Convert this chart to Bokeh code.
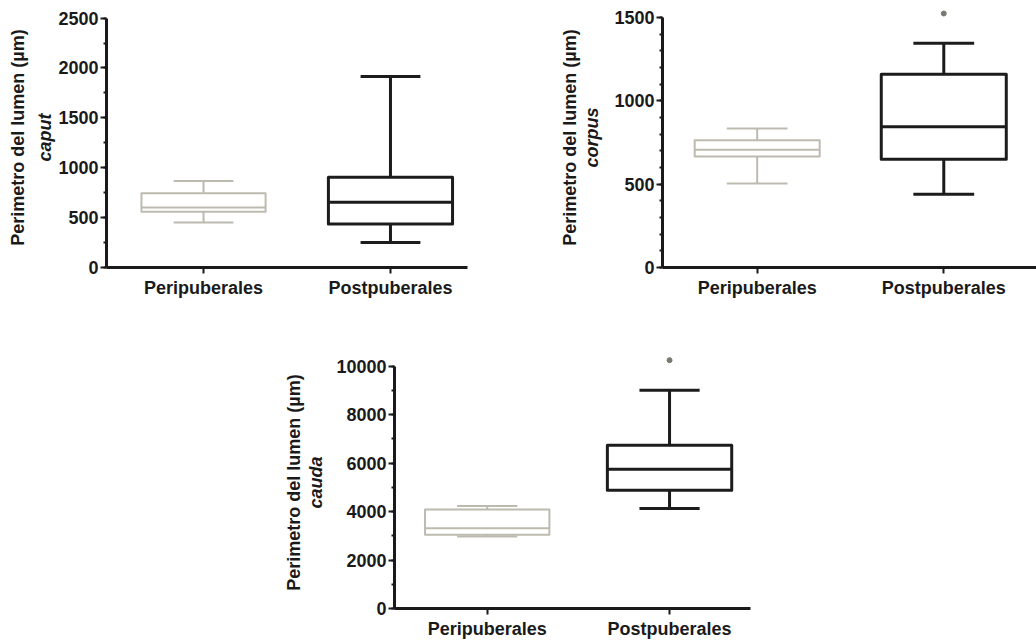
from bokeh.plotting import figure
from bokeh.models import FixedTicker, LinearAxis, Range1d, Spacer
from bokeh.layouts import row, column
from bokeh.embed import file_html
from bokeh.resources import INLINE

categories = ["Peripuberales", "Postpuberales"]
ylabel_main = "Perimetro del lumen (\u00b5m)"

# caput
caput_lower = [452, 251]
caput_q1 = [559, 436]
caput_median = [602, 653]
caput_q3 = [743, 904]
caput_upper = [867, 1915]
caput_out_x = []
caput_out_y = []

# corpus
corpus_lower = [504, 440]
corpus_q1 = [666, 650]
corpus_median = [706, 844]
corpus_q3 = [764, 1160]
corpus_upper = [834, 1346]
corpus_out_x = [2]
corpus_out_y = [1524]

# cauda
cauda_lower = [2970, 4127]
cauda_q1 = [3040, 4884]
cauda_median = [3310, 5750]
cauda_q3 = [4090, 6740]
cauda_upper = [4234, 9010]
cauda_out_x = [2]
cauda_out_y = [10248]

FONT = "Liberation Sans"
FS = "18px"
INK = "#1a1a1a"
COLORS = ["#bdbaaf", "#1c1c1c"]
WIDTHS = [2, 3]


def make_plot(region, lower, q1, med, q3, upper, out_x, out_y,
              xr, yr, ymax, major, minor, half_box, half_cap,
              bl, br, bt, bb, fw, fh, std1, std2):
    p = figure(frame_width=fw, frame_height=fh, output_backend="svg", title=None,
               toolbar_location=None, x_range=Range1d(*xr), y_range=Range1d(0, yr),
               min_border_left=bl, min_border_right=br, min_border_top=bt,
               min_border_bottom=bb, outline_line_color=None)
    p.grid.visible = False
    p.background_fill_color = "white"
    p.border_fill_color = "white"

    xs = [i + 1 for i in range(len(categories))]
    for i, x in enumerate(xs):
        c = COLORS[i]
        w = WIDTHS[i]
        p.segment(x0=[x], y0=[q3[i]], x1=[x], y1=[upper[i]], line_color=c, line_width=w)
        p.segment(x0=[x], y0=[lower[i]], x1=[x], y1=[q1[i]], line_color=c, line_width=w)
        p.segment(x0=[x - half_cap], y0=[upper[i]], x1=[x + half_cap], y1=[upper[i]],
                  line_color=c, line_width=w)
        p.segment(x0=[x - half_cap], y0=[lower[i]], x1=[x + half_cap], y1=[lower[i]],
                  line_color=c, line_width=w)
        p.quad(left=[x - half_box], right=[x + half_box], bottom=[q1[i]], top=[q3[i]],
               fill_color=None, line_color=c, line_width=w, line_join="round")
        p.segment(x0=[x - half_box], y0=[med[i]], x1=[x + half_box], y1=[med[i]],
                  line_color=c, line_width=w)
    if out_x:
        p.scatter(out_x, out_y, size=5, color="#7a7a72")

    # y axis (with region name as italic label)
    ya = p.yaxis[0]
    ya.bounds = (0, ymax)
    ya.ticker = FixedTicker(ticks=major, minor_ticks=minor)
    ya.axis_line_width = 3
    ya.axis_line_color = INK
    ya.major_tick_line_width = 2
    ya.major_tick_line_color = INK
    ya.major_tick_out = 6
    ya.major_tick_in = 0
    ya.minor_tick_out = 3
    ya.minor_tick_in = 0
    ya.minor_tick_line_width = 2
    ya.minor_tick_line_color = INK
    ya.major_label_text_font = FONT
    ya.major_label_text_font_style = "bold"
    ya.major_label_text_font_size = FS
    ya.major_label_text_color = INK
    ya.major_label_standoff = 2
    ya.axis_label = region
    ya.axis_label_text_font = FONT
    ya.axis_label_text_font_style = "bold italic"
    ya.axis_label_text_font_size = FS
    ya.axis_label_text_color = INK
    ya.axis_label_standoff = std1

    # outer axis carrying the main title
    ya2 = LinearAxis(ticker=FixedTicker(ticks=[], minor_ticks=[]),
                     axis_line_color=None, major_tick_out=0, major_tick_in=0,
                     minor_tick_out=0, minor_tick_in=0, major_label_standoff=0,
                     major_label_text_font_size="0px",
                     axis_label=ylabel_main, axis_label_text_font=FONT,
                     axis_label_text_font_style="bold",
                     axis_label_text_font_size=FS,
                     axis_label_text_color=INK, axis_label_standoff=std2)
    p.add_layout(ya2, "left")

    xa = p.xaxis[0]
    xa.ticker = FixedTicker(ticks=xs, minor_ticks=[])
    xa.major_label_overrides = {x: c for x, c in zip(xs, categories)}
    xa.axis_line_width = 3
    xa.axis_line_color = INK
    xa.major_tick_line_width = 2
    xa.major_tick_line_color = INK
    xa.major_tick_out = 6
    xa.major_tick_in = 0
    xa.minor_tick_line_color = None
    xa.major_label_text_font = FONT
    xa.major_label_text_font_style = "bold"
    xa.major_label_text_font_size = FS
    xa.major_label_text_color = INK
    xa.major_label_standoff = 4
    return p


p1 = make_plot("caput", caput_lower, caput_q1, caput_median, caput_q3, caput_upper,
               caput_out_x, caput_out_y,
               (0.481, 2.412), 2606, 2500, list(range(0, 2501, 500)),
               list(range(0, 2501, 250)), 0.332, 0.16,
               106, 73, 7, 33, 361, 260, 0, 5)

p2 = make_plot("corpus", corpus_lower, corpus_q1, corpus_median, corpus_q3, corpus_upper,
               corpus_out_x, corpus_out_y,
               (0.4925, 2.497), 1560, 1500, list(range(0, 1501, 500)),
               list(range(0, 1501, 100)), 0.335, 0.163,
               122, 0, 7, 33, 374, 260, 9, 0)

p3 = make_plot("cauda", cauda_lower, cauda_q1, cauda_median, cauda_q3, cauda_upper,
               cauda_out_x, cauda_out_y,
               (0.4915, 2.444), 10400, 10000, list(range(0, 10001, 2000)),
               list(range(0, 10001, 1000)), 0.341, 0.165,
               124, 20, 56, 33, 356, 252, 7, 0)

layout = column(row(p1, p2), row(Spacer(width=270, height=341), p3))

open("out.html", "w").write(file_html(layout, INLINE))
